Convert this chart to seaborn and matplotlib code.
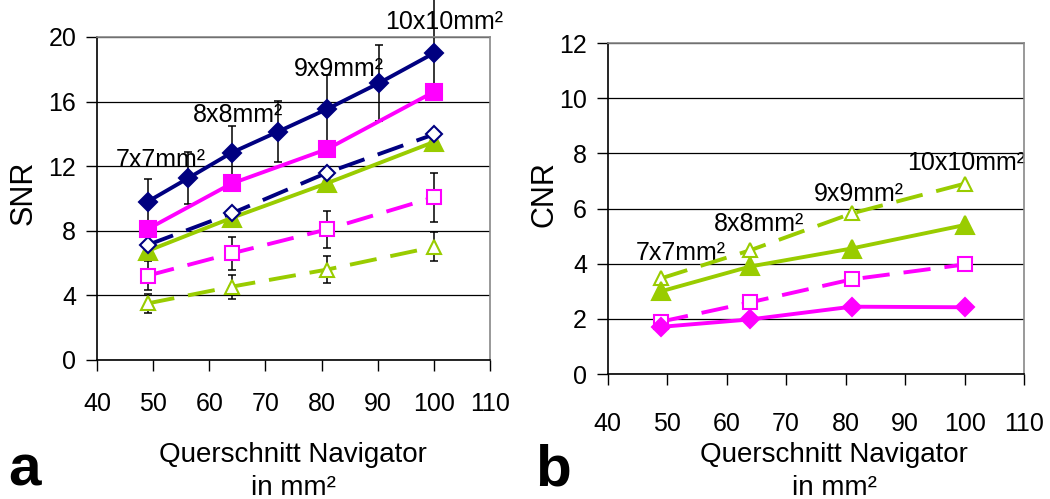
import matplotlib
matplotlib.use("Agg")
import matplotlib.pyplot as plt
import seaborn as sns
import numpy as np

# ---- data -------------------------------------------------------------
# Navigator cross-section areas (mm^2)
area_fine = [49, 56.25, 64, 72.25, 81, 90.25, 100]
area = [49, 64, 81, 100]

# SNR (panel a)
snr_navy_solid = [9.8, 11.26, 12.84, 14.14, 15.54, 17.15, 19.0]
snr_navy_solid_err_lo = [1.4, 1.6, 1.66, 1.88, 2.1, 2.35, 2.5]
snr_navy_solid_err_hi = [1.4, 1.6, 1.66, 1.9, 2.1, 2.35, 3.5]
snr_magenta_solid = [8.1, 10.93, 13.06, 16.6]
snr_navy_dashed = [7.12, 9.08, 11.6, 13.97]
snr_green_solid = [6.75, 8.8, 10.95, 13.5]
snr_magenta_dashed = [5.22, 6.6, 8.09, 10.07]
snr_magenta_dashed_err = [0.9, 1.0, 1.15, 1.5]
snr_green_dashed = [3.5, 4.54, 5.6, 7.0]
snr_green_dashed_err = [0.6, 0.75, 0.85, 0.9]

# CNR (panel b)
cnr_green_dashed = [3.47, 4.49, 5.82, 6.9]
cnr_green_solid = [3.0, 3.9, 4.55, 5.4]
cnr_magenta_dashed = [1.9, 2.6, 3.43, 3.97]
cnr_magenta_solid = [1.71, 1.98, 2.44, 2.42]

size_labels = ["7x7mm²", "8x8mm²", "9x9mm²", "10x10mm²"]
x_ticks = [40, 50, 60, 70, 80, 90, 100, 110]
snr_ticks = [0, 4, 8, 12, 16, 20]
cnr_ticks = [0, 2, 4, 6, 8, 10, 12]

# ---- style ------------------------------------------------------------
sns.set_style("ticks")
plt.rcParams["font.family"] = ["Liberation Sans", "DejaVu Sans"]
for key in ("text.color", "axes.labelcolor", "xtick.color", "ytick.color",
            "xtick.labelcolor", "ytick.labelcolor"):
    plt.rcParams[key] = "black"

NAVY = "#000080"
MAGENTA = "#FF00FF"
GREEN = "#99CC00"
DASH = (7, 3.6)
LW = 2.8

fig = plt.figure(figsize=(10.5, 4.99), dpi=100)
ax_a = fig.add_axes([0.0924, 0.2786, 0.3743, 0.6473])
ax_b = fig.add_axes([0.5788, 0.2505, 0.3965, 0.6633])


def draw_series(ax, x, y, color, marker, ms, filled, dashed, z=3):
    kw = dict(color=color, linewidth=LW, marker=marker, markersize=ms,
              markeredgecolor=color, markeredgewidth=1.5,
              markerfacecolor=color if filled else "white", zorder=z)
    if dashed:
        kw["dashes"] = DASH
    sns.lineplot(x=x, y=y, ax=ax, legend=False, **kw)


def style_axes(ax, yticks, xpad):
    ax.set_xlim(40, 110)
    ax.set_ylim(yticks[0], yticks[-1])
    ax.set_xticks(x_ticks)
    ax.set_yticks(yticks)
    ax.tick_params(axis="both", direction="out", length=8, width=1,
                   color="black", labelcolor="black", labelsize=18)
    ax.tick_params(axis="x", pad=xpad)
    ax.tick_params(axis="y", pad=7)
    ax.yaxis.grid(True, color="black", linewidth=0.9)
    ax.set_axisbelow(True)
    for side in ("left", "bottom"):
        ax.spines[side].set_color("black")
        ax.spines[side].set_linewidth(1.2)
    for side in ("top", "right"):
        ax.spines[side].set_visible(True)
        ax.spines[side].set_color("#888888")
        ax.spines[side].set_linewidth(1.2)
    ax.set_xlabel("")
    ax.set_ylabel("")


# ---- panel a: SNR -----------------------------------------------------
eb = dict(fmt="none", ecolor="black", elinewidth=1.1, capsize=3,
          capthick=1.1, zorder=2, clip_on=False)
ax_a.errorbar(area_fine, snr_navy_solid,
              yerr=[snr_navy_solid_err_lo, snr_navy_solid_err_hi], **eb)
ax_a.errorbar(area, snr_magenta_dashed, yerr=snr_magenta_dashed_err, **eb)
ax_a.errorbar(area, snr_green_dashed, yerr=snr_green_dashed_err, **eb)

draw_series(ax_a, area, snr_green_dashed, GREEN, "^", 10.5, False, True)
draw_series(ax_a, area, snr_magenta_dashed, MAGENTA, "s", 10.5, False, True)
draw_series(ax_a, area, snr_green_solid, GREEN, "^", 13, True, False)
draw_series(ax_a, area, snr_navy_dashed, NAVY, "D", 8.5, False, True)
draw_series(ax_a, area, snr_magenta_solid, MAGENTA, "s", 11, True, False)
draw_series(ax_a, area_fine, snr_navy_solid, NAVY, "D", 9.5, True, False, z=4)
style_axes(ax_a, snr_ticks, 15)

label_pos_a = [(51.4, 12.38), (65.2, 15.17), (83.1, 18.02), (101.9, 20.93)]
for txt, (lx, ly) in zip(size_labels, label_pos_a):
    ax_a.text(lx, ly, txt, fontsize=18, ha="center", va="center",
              clip_on=False, zorder=1)

# ---- panel b: CNR -----------------------------------------------------
draw_series(ax_b, area, cnr_green_dashed, GREEN, "^", 10, False, True)
draw_series(ax_b, area, cnr_green_solid, GREEN, "^", 12.5, True, False)
draw_series(ax_b, area, cnr_magenta_dashed, MAGENTA, "s", 10.5, False, True)
draw_series(ax_b, area, cnr_magenta_solid, MAGENTA, "D", 9, True, False)
style_axes(ax_b, cnr_ticks, 19)

label_pos_b = [(52.3, 4.38), (65.4, 5.43), (82.2, 6.52), (100.2, 7.64)]
for txt, (lx, ly) in zip(size_labels, label_pos_b):
    ax_b.text(lx, ly, txt, fontsize=18, ha="center", va="center",
              clip_on=False, zorder=1)

# ---- axis titles and panel letters -----------------------------------
fig.text(24 / 1050, 1 - 193 / 499, "SNR", rotation=90, fontsize=22,
         ha="center", va="center")
fig.text(544 / 1050, 1 - 194 / 499, "CNR", rotation=90, fontsize=22,
         ha="center", va="center")
for cx in (293 / 1050, 834 / 1050):
    fig.text(cx, 1 - 455 / 499, "Querschnitt Navigator", fontsize=20,
             ha="center", va="center")
    fig.text(cx, 1 - 488 / 499, "in mm²", fontsize=20,
             ha="center", va="center")
fig.text(24 / 1050, 1 - 470 / 499, "a", fontsize=42, fontweight="bold",
         ha="center", va="center")
fig.text(553 / 1050, 1 - 470 / 499, "b", fontsize=42, fontweight="bold",
         ha="center", va="center")

fig.savefig("out.png", dpi=100)
